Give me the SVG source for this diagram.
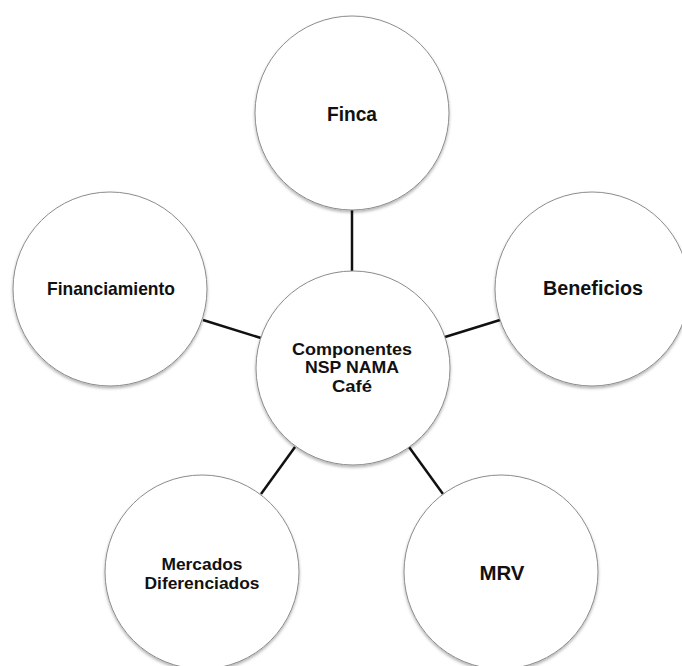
<svg xmlns="http://www.w3.org/2000/svg" width="682" height="666" viewBox="0 0 682 666">
<style>
.node circle{fill:#fff;stroke:#8c8c8c;stroke-width:1;filter:url(#sh)}
.node text{font-family:"Liberation Sans",Arial,sans-serif;font-weight:bold;fill:#111;text-anchor:middle;font-size:18.5px}
.node text.ml{font-size:17px}
.conn line{stroke:#111;stroke-width:2.5}
</style>
<defs>
<filter id="sh" x="-10%" y="-10%" width="120%" height="125%">
<feDropShadow dx="0" dy="2" stdDeviation="1.5" flood-color="#000" flood-opacity="0.3"/>
</filter>
</defs>
<rect width="682" height="666" fill="#fff"/>
<g id="connectors" class="conn">
<line x1="352" y1="210" x2="352" y2="271"/>
<line x1="203" y1="320" x2="261" y2="338"/>
<line x1="445" y1="337" x2="500" y2="320"/>
<line x1="295" y1="447" x2="261" y2="494"/>
<line x1="409" y1="447" x2="443" y2="494"/>
</g>
<g id="node-finca" class="node">
<circle cx="352" cy="113" r="97"/>
<text x="352" y="121" style="font-size:20px" textLength="50" lengthAdjust="spacingAndGlyphs">Finca</text>
</g>
<g id="node-financiamiento" class="node">
<circle cx="110" cy="289" r="97"/>
<text x="111" y="295" textLength="128" lengthAdjust="spacingAndGlyphs">Financiamiento</text>
</g>
<g id="node-beneficios" class="node">
<circle cx="592" cy="289" r="97"/>
<text x="593" y="295" style="font-size:20px" textLength="100" lengthAdjust="spacingAndGlyphs">Beneficios</text>
</g>
<g id="node-centro" class="node">
<circle cx="353" cy="368" r="97"/>
<text class="ml" x="352" y="355" textLength="120" lengthAdjust="spacingAndGlyphs">Componentes</text>
<text class="ml" x="352" y="373" textLength="94" lengthAdjust="spacingAndGlyphs">NSP NAMA</text>
<text class="ml" x="352" y="392" textLength="40" lengthAdjust="spacingAndGlyphs">Café</text>
</g>
<g id="node-mercados" class="node">
<circle cx="202" cy="572" r="97"/>
<text class="ml" x="202" y="570" textLength="81" lengthAdjust="spacingAndGlyphs">Mercados</text>
<text class="ml" x="202" y="589" textLength="115" lengthAdjust="spacingAndGlyphs">Diferenciados</text>
</g>
<g id="node-mrv" class="node">
<circle cx="501" cy="572" r="97"/>
<text x="502" y="580" style="font-size:20px" textLength="45" lengthAdjust="spacingAndGlyphs">MRV</text>
</g>
</svg>
